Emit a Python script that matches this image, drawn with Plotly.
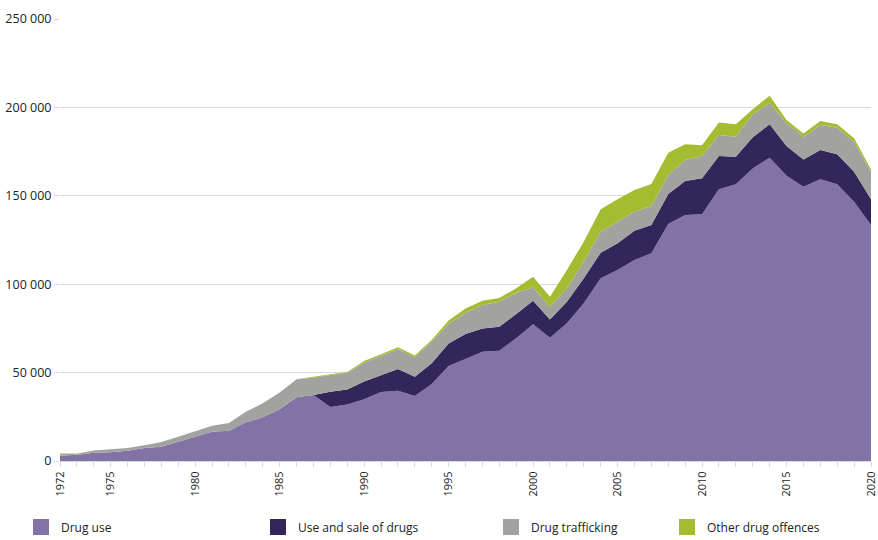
import plotly.graph_objects as go

years = list(range(1972, 2021))
drug_use = [3000, 3600, 4700, 5000, 5800, 7300, 8100, 10900, 14000, 16600,
            17100, 21900, 24700, 29200, 36000, 37300, 30500, 32000, 34900, 39000,
            39800, 36800, 43500, 53700, 57700, 61800, 62400, 69400, 77300, 69700,
            77900, 89200, 103300, 108000, 113700, 117500, 134000, 139100, 139500, 153700,
            156500, 165500, 171500, 161400, 155100, 159300, 156500, 146700, 133500]
use_and_sale = [0, 0, 0, 0, 0, 0, 0, 0, 0, 0,
                0, 0, 0, 0, 0, 0, 8700, 8500, 10000, 9600,
                12200, 10900, 11800, 12700, 14100, 13200, 13600, 13700, 13400, 10400,
                12200, 14100, 14500, 15100, 16600, 16000, 17000, 19300, 20400, 18800,
                15600, 17600, 18900, 16800, 15500, 16600, 17000, 16900, 14500]
trafficking = [1000, 500, 1300, 1600, 1500, 1600, 2600, 2800, 2800, 3400,
               4400, 6000, 7900, 9600, 10200, 9800, 9400, 9400, 10700, 11000,
               11300, 11000, 12200, 11200, 12100, 13200, 14100, 12100, 7500, 7200,
               7600, 9400, 11900, 12200, 10700, 10700, 10800, 11800, 12600, 11900,
               11300, 13000, 12300, 12800, 12800, 14100, 15000, 17000, 15600]
other = [200, 100, 0, 0, 0, 0, 0, 0, 0, 0,
         0, 0, 0, 0, 0, 300, 400, 500, 1000, 800,
         1000, 1000, 1000, 1800, 2400, 2500, 2100, 2500, 6000, 5600,
         10300, 11300, 12700, 12800, 12300, 12500, 12600, 8900, 6100, 7000,
         7000, 2800, 3900, 1900, 1900, 2300, 1900, 1900, 1400]

series_names = ["Drug use", "Use and sale of drugs", "Drug trafficking", "Other drug offences"]
series_values = [drug_use, use_and_sale, trafficking, other]
colors = ["#8372A5", "#33265A", "#A2A2A1", "#A4BC32"]
legend_ids = ["legend", "legend2", "legend3", "legend4"]
legend_x = [21, 258, 491, 667]

label_years = [1972, 1975, 1980, 1985, 1990, 1995, 2000, 2005, 2010, 2015, 2020]
y_ticks = [0, 50000, 100000, 150000, 200000, 250000]
y_tick_text = ["0", "50 000", "100 000", "150 000", "200 000", "250 000"]

FONT = "Open Sans, Liberation Sans, sans-serif"

fig = go.Figure()
for name, vals, col in zip(series_names, series_values, colors):
    fig.add_trace(go.Scatter(
        x=years, y=vals, name=name, stackgroup="one", mode="lines",
        line=dict(width=0, color=col), fillcolor=col, showlegend=False,
        hovertemplate="%{x}: %{y}<extra>" + name + "</extra>"))

# legend entries (square swatches)
for name, col, lid in zip(series_names, colors, legend_ids):
    fig.add_trace(go.Scatter(
        x=[None], y=[None], name=name, mode="markers",
        marker=dict(symbol="square", size=17, color=col),
        legend=lid, showlegend=True))

legend_common = dict(orientation="h", xref="container", yref="container",
                     yanchor="middle", y=(540 - 527) / 540, xanchor="left",
                     font=dict(family=FONT, size=12, color="#222222"),
                     bgcolor="rgba(0,0,0,0)", itemwidth=30)

layout_legends = {}
for lid, lx in zip(legend_ids, legend_x):
    layout_legends[lid] = dict(legend_common, x=lx / 878)

fig.update_layout(
    width=878, height=540,
    margin=dict(l=60, r=7, t=19, b=79),
    paper_bgcolor="white", plot_bgcolor="white",
    font=dict(family=FONT, size=12, color="#222222"),
    xaxis=dict(range=[1972, 2020], tickmode="array", tickvals=years,
               ticktext=[str(y) if y in label_years else "" for y in years],
               tickangle=-90, ticks="outside", ticklen=5, tickcolor="#D9D9D9",
               showgrid=False, showline=True, linecolor="#D9D9D9", linewidth=1,
               zeroline=False, automargin=False, ticklabeloverflow="allow",
               tickfont=dict(size=11, color="#222222")),
    yaxis=dict(range=[0, 250000], tickmode="array", tickvals=y_ticks,
               ticktext=y_tick_text, showgrid=True, gridcolor="#D9D9D9",
               gridwidth=1, ticks="outside", ticklen=5, tickcolor="#D9D9D9",
               zeroline=False, showline=False, automargin=False,
               tickfont=dict(size=12.5, color="#222222")),
    **layout_legends,
)

fig.write_html("out.html", config={"displayModeBar": False},
               post_script="document.body.style.margin='0';")
